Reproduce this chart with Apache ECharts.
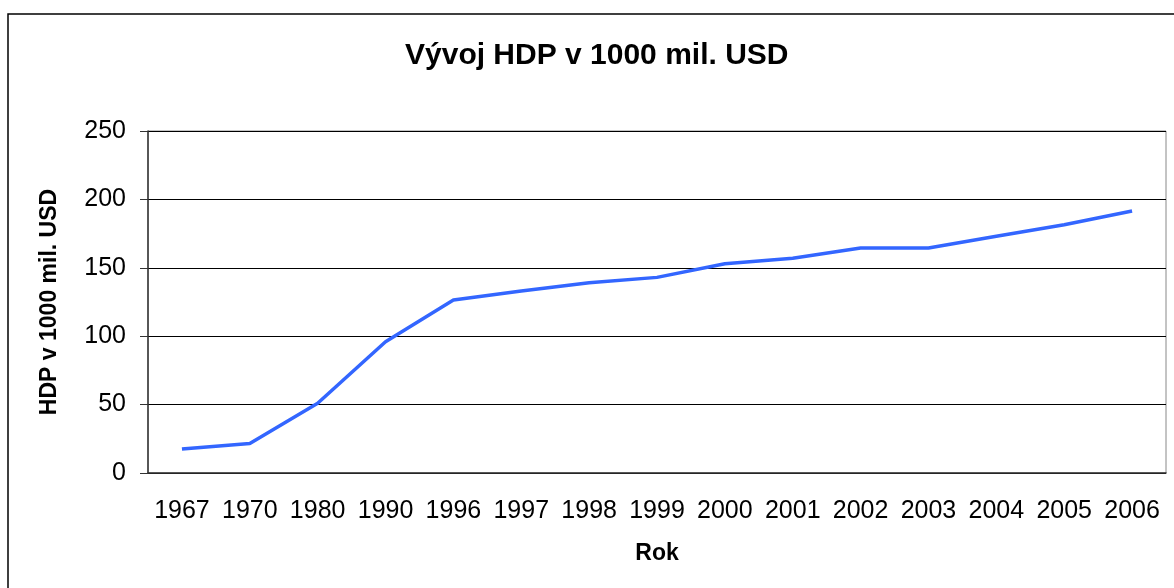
<!DOCTYPE html>
<html>
<head>
<meta charset="utf-8">
<script src="https://cdn.jsdelivr.net/npm/echarts@6/dist/echarts.min.js"></script>
<style>
  html, body { margin: 0; padding: 0; background: #fff; }
  #main { width: 1174px; height: 588px; }
</style>
</head>
<body>
<div id="main"></div>
<script>
// roky a HDP
var years = ['1967', '1970', '1980', '1990', '1996', '1997', '1998', '1999', '2000', '2001', '2002', '2003', '2004', '2005', '2006'];
var hdp = [17.5, 21.5, 51, 96, 126.5, 133, 139, 143, 153, 157, 164.5, 164.5, 173, 181.5, 191.5];
var yTicks = [0, 50, 100, 150, 200, 250];

var chart = echarts.init(document.getElementById('main'));
chart.setOption({
    animation: false,
    title: {
        text: 'Vývoj HDP v 1000 mil. USD',
        left: 400,
        top: 36,
        textStyle: { fontFamily: 'Liberation Sans', fontSize: 30, fontWeight: 'bold', color: '#000' }
    },
    graphic: [{
        type: 'rect',
        shape: { x: 8, y: 14, width: 1200, height: 600 },
        style: { fill: 'none', stroke: '#000', lineWidth: 1.5 },
        silent: true
    }],
    grid: {
        left: 148, right: 8, top: 131, bottom: 115,
        show: true, borderColor: '#888', borderWidth: 1
    },
    xAxis: {
        type: 'category',
        data: years,
        name: 'Rok',
        nameLocation: 'middle',
        nameGap: 69,
        nameTextStyle: { fontFamily: 'Liberation Sans', fontSize: 23, fontWeight: 'bold', color: '#000' },
        axisLine: { lineStyle: { color: '#333', width: 1.5 } },
        axisTick: { alignWithLabel: false, interval: 0, length: 8, lineStyle: { color: '#333' } },
        axisLabel: { interval: 0, fontFamily: 'Liberation Sans', fontSize: 25, color: '#000', margin: 26 }
    },
    yAxis: {
        type: 'value',
        min: yTicks[0],
        max: yTicks[yTicks.length - 1],
        interval: 50,
        name: 'HDP v 1000 mil. USD',
        nameLocation: 'middle',
        nameGap: 87,
        nameTextStyle: { fontFamily: 'Liberation Sans', fontSize: 23, fontWeight: 'bold', color: '#000' },
        axisLine: { show: true, lineStyle: { color: '#333', width: 1.5 } },
        axisTick: { show: true, length: 8, lineStyle: { color: '#333' } },
        axisLabel: { fontFamily: 'Liberation Sans', fontSize: 25, color: '#000', margin: 22 },
        splitLine: { lineStyle: { color: '#000', width: 1 } }
    },
    series: [{
        type: 'line',
        data: hdp,
        showSymbol: false,
        lineStyle: { color: '#3366ff', width: 3.5 }
    }]
});
</script>
</body>
</html>
